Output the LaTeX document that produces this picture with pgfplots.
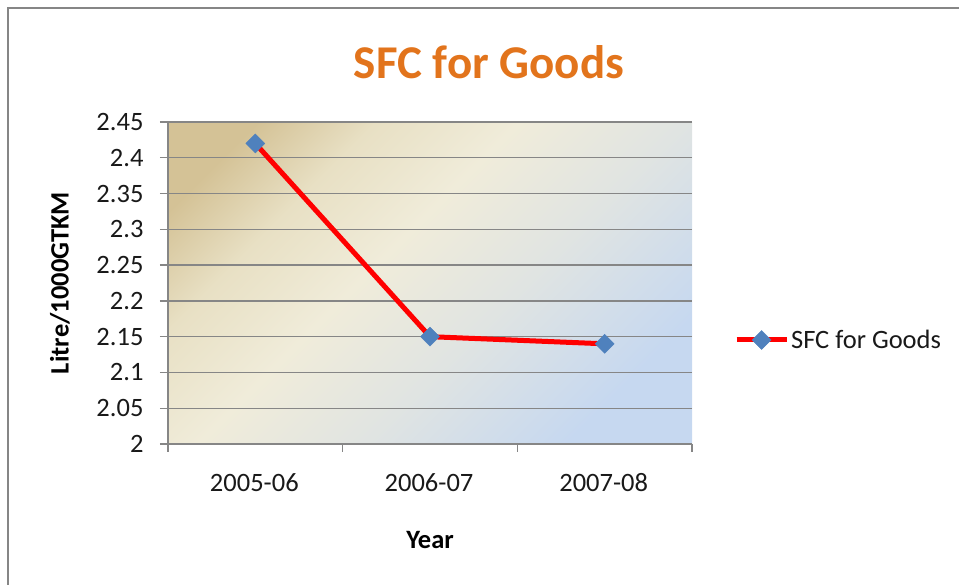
\documentclass[border=0pt]{standalone}
\usepackage{pgfplots}
\pgfplotsset{compat=1.18}
\usepackage{fontspec}
\setmainfont{Carlito}
\definecolor{gridgray}{RGB}{134,134,134}
\definecolor{mblue}{RGB}{79,129,189}
\definecolor{ttl}{RGB}{226,116,28}
\definecolor{bgtan}{RGB}{212,194,150}
\definecolor{bgtanb}{RGB}{232,224,196}
\definecolor{bgcream}{RGB}{240,236,218}
\definecolor{bgmid}{RGB}{224,228,226}
\definecolor{bgblue}{RGB}{198,216,240}
\pgfdeclareverticalshading{plotbg}{100bp}{color(0bp)=(bgblue); color(25bp)=(bgblue); color(42bp)=(bgmid); color(56bp)=(bgcream); color(68bp)=(bgtanb); color(78bp)=(bgtan); color(100bp)=(bgtan)}
\begin{document}
\begin{tikzpicture}
\useasboundingbox (0,0) rectangle (959pt,584pt);
\draw[gridgray, line width=2pt] (8pt,-20pt) -- (8pt,576pt) -- (990pt,576pt);
\begin{axis}[
  at={(168pt,140pt)}, anchor=south west,
  scale only axis, width=524pt, height=322pt,
  xmin=0, xmax=3, ymin=2, ymax=2.45,
  ytick={2,2.05,2.1,2.15,2.2,2.25,2.3,2.35,2.4,2.45},
  xtick={0,1,2,3}, xticklabels={},
  extra x ticks={0.5,1.5,2.5},
  extra x tick labels={2005-06,2006-07,2007-08},
  extra x tick style={major tick length=0pt, xticklabel style={yshift=-26pt, xshift=-1pt}},
  axis x line=bottom, axis y line=left,
  axis line style={draw=gridgray, line width=1.3pt, -},
  tick align=outside, major tick length=8pt,
  tick style={draw=gridgray, line width=1.3pt},
  ymajorgrids, grid style={draw=gridgray, line width=1.3pt},
  /pgf/number format/assume math mode=true,
  tick label style={font=\fontsize{26.5}{30}\selectfont, text=black!90},
  yticklabel style={xshift=-13pt},
  axis background/.style={shading=plotbg, shading angle=45},
  legend style={at={(1.08,0.323)}, anchor=west, draw=none, fill=none,
    font=\fontsize{26.5}{30}\selectfont, inner sep=0pt, text=black!90},
  legend image code/.code={\draw[#1, mark repeat=2, mark phase=2] plot coordinates {(0pt,0pt) (25pt,0pt) (50pt,0pt)};},
  clip=false
]
\addplot[red, line width=5pt, mark=square*, mark size=6.7pt,
  mark options={rotate=45, fill=mblue, draw=mblue, line width=0.5pt}]
  coordinates {(0.5,2.42) (1.5,2.15) (2.5,2.14)};
\addlegendentry{SFC for Goods}
\end{axis}
\node[font=\fontsize{47}{52}\selectfont\bfseries, text=ttl] at (489pt,522pt) {SFC for Goods};
\node[font=\fontsize{26.5}{30}\selectfont\bfseries] at (430pt,44pt) {Year};
\node[font=\fontsize{26.5}{30}\selectfont\bfseries, rotate=90] at (60pt,301pt) {Litre/1000GTKM};
\end{tikzpicture}
\end{document}
